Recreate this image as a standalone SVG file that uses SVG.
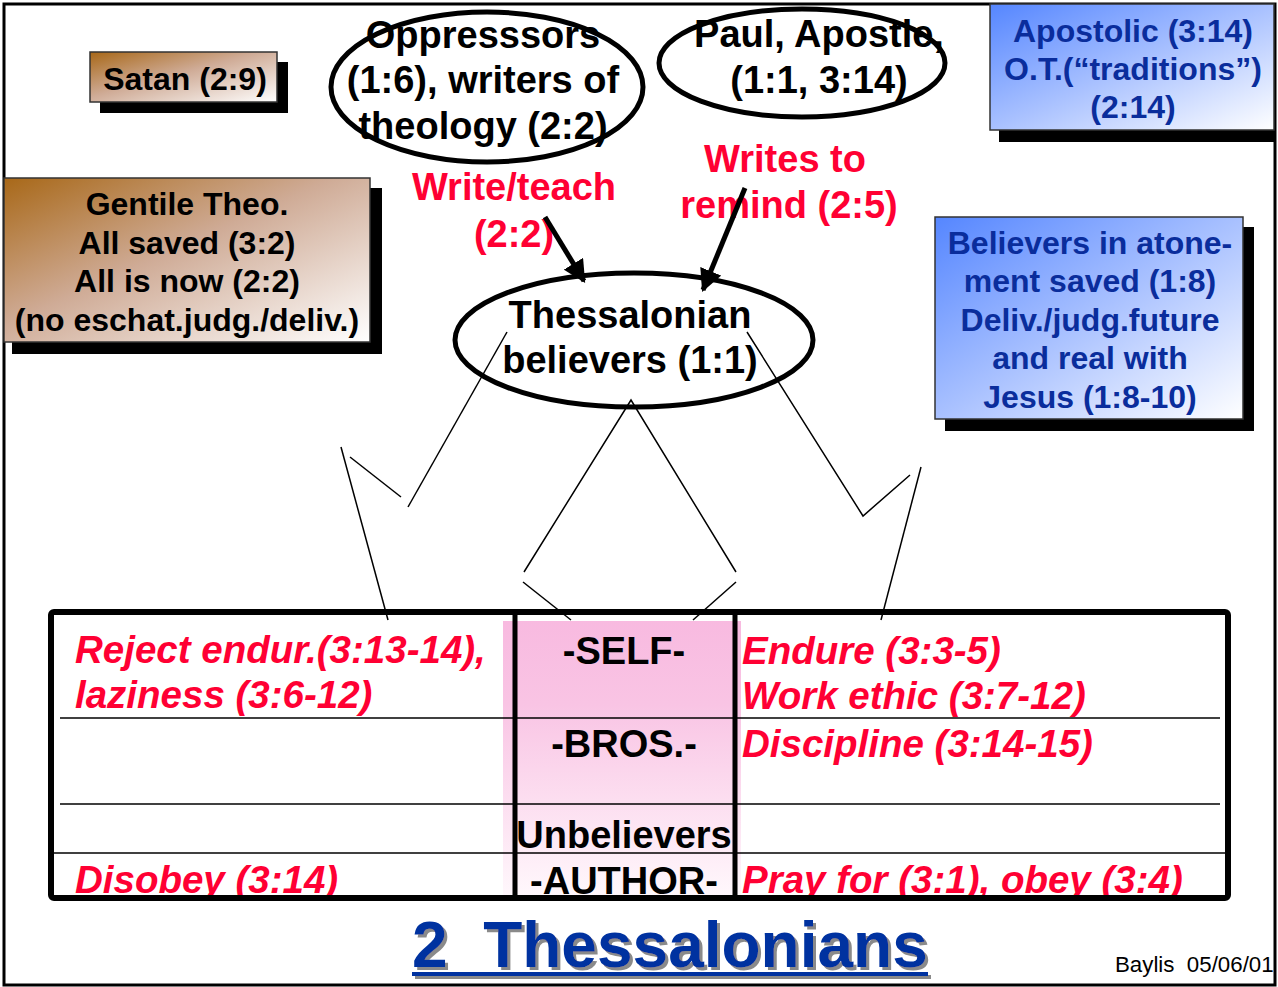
<svg xmlns="http://www.w3.org/2000/svg" width="1278" height="987" viewBox="0 0 1278 987">
<style>
text{font-family:"Liberation Sans",Arial,Helvetica,sans-serif;font-weight:bold;}
.b32{font-size:32px;fill:#000;text-anchor:middle;}
.bl32{font-size:32px;fill:#0a2d9c;text-anchor:middle;}
.e38{font-size:38px;fill:#000;text-anchor:middle;}
.r38{font-size:38px;fill:#ff0033;text-anchor:middle;}
.ri{font-size:38.5px;fill:#ff0033;font-style:italic;}
.cell{font-size:38px;fill:#000;text-anchor:middle;}
.ell{fill:none;stroke:#000;stroke-width:5;}
.thin{stroke:#000;stroke-width:1.5;fill:none;}
.shadow{fill:#000;}
.box{stroke:#333;stroke-width:1.5;}
</style>
<defs>
<linearGradient id="gBrown" x1="0" y1="0" x2="1" y2="1">
<stop offset="0" stop-color="#a86818"/>
<stop offset="0.45" stop-color="#cfab96"/>
<stop offset="1" stop-color="#ffffff"/>
</linearGradient>
<linearGradient id="gBlue" x1="0" y1="0" x2="1" y2="1">
<stop offset="0" stop-color="#5586ff"/>
<stop offset="0.5" stop-color="#a9c1ff"/>
<stop offset="1" stop-color="#ffffff"/>
</linearGradient>
<linearGradient id="gPink" x1="0" y1="0" x2="0" y2="1">
<stop offset="0" stop-color="#f8bae0"/>
<stop offset="0.3" stop-color="#f9c4e4"/>
<stop offset="1" stop-color="#fff8fc"/>
</linearGradient>
<filter id="ds" x="-5%" y="-20%" width="110%" height="140%">
<feDropShadow dx="3" dy="3" stdDeviation="0.6" flood-color="#8a8a8a" flood-opacity="1"/>
</filter>
<marker id="ah" viewBox="0 0 10 10" refX="9" refY="5" markerWidth="4.5" markerHeight="4.5" orient="auto" markerUnits="strokeWidth">
<path d="M0,0 L10,5 L0,10 z" fill="#000"/>
</marker>
</defs>
<rect x="0" y="0" width="1278" height="987" fill="#fff"/>
<rect x="4" y="4" width="1271" height="981" fill="none" stroke="#000" stroke-width="3"/>

<g id="satan">
<rect class="shadow" x="100" y="62" width="188" height="51"/>
<rect class="box" x="90" y="52" width="187" height="50" fill="url(#gBrown)"/>
<text class="b32" x="185" y="90">Satan (2:9)</text>
</g>

<g id="gentile">
<rect class="shadow" x="12" y="188" width="370" height="166"/>
<rect class="box" x="4" y="178" width="366" height="164" fill="url(#gBrown)"/>
<text class="b32" x="187" y="215">Gentile Theo.</text>
<text class="b32" x="187" y="254">All saved (3:2)</text>
<text class="b32" x="187" y="292">All is now (2:2)</text>
<text class="b32" x="187" y="331">(no eschat.judg./deliv.)</text>
</g>

<g id="apostolic">
<rect class="shadow" x="999" y="14" width="277" height="128"/>
<rect class="box" x="990" y="4" width="284" height="126" fill="url(#gBlue)"/>
<text class="bl32" x="1133" y="42">Apostolic (3:14)</text>
<text class="bl32" x="1133" y="80">O.T.(“traditions”)</text>
<text class="bl32" x="1133" y="118">(2:14)</text>
</g>

<g id="atonement">
<rect class="shadow" x="945" y="227" width="309" height="204"/>
<rect class="box" x="935" y="217" width="308" height="202" fill="url(#gBlue)"/>
<text class="bl32" x="1090" y="254">Believers in atone-</text>
<text class="bl32" x="1090" y="292">ment saved (1:8)</text>
<text class="bl32" x="1090" y="331">Deliv./judg.future</text>
<text class="bl32" x="1090" y="369">and real with</text>
<text class="bl32" x="1090" y="408">Jesus (1:8-10)</text>
</g>

<g id="oppressors">
<ellipse class="ell" cx="487" cy="87" rx="156" ry="75"/>
<text class="e38" x="483" y="48">Oppresssors</text>
<text class="e38" x="483" y="93">(1:6), writers of</text>
<text class="e38" x="483" y="139">theology (2:2)</text>
</g>

<g id="paul">
<ellipse class="ell" cx="802" cy="63" rx="143" ry="54"/>
<text class="e38" x="819" y="47">Paul, Apostle,</text>
<text class="e38" x="819" y="93">(1:1, 3:14)</text>
</g>

<g id="labels">
<text class="r38" x="514" y="200">Write/teach</text>
<text class="r38" x="514" y="247">(2:2)</text>
<text class="r38" x="785" y="172">Writes to</text>
<text class="r38" x="789" y="218">remind (2:5)</text>
</g>

<g id="thessalonian">
<ellipse class="ell" cx="634" cy="340" rx="179" ry="67"/>
<text class="e38" x="630" y="328">Thessalonian</text>
<text class="e38" x="630" y="373">believers (1:1)</text>
</g>

<g id="table">
<rect x="503" y="621" width="238" height="276" fill="url(#gPink)"/>
<line class="thin" x1="60" y1="718" x2="1220" y2="718"/>
<line class="thin" x1="60" y1="804" x2="1220" y2="804"/>
<line class="thin" x1="51" y1="853" x2="1228" y2="853"/>
<text class="ri" x="75" y="663">Reject endur.(3:13-14),</text>
<text class="ri" x="75" y="708">laziness (3:6-12)</text>
<text class="ri" x="75" y="893">Disobey (3:14)</text>
<text class="ri" x="742" y="664">Endure (3:3-5)</text>
<text class="ri" x="742" y="709">Work ethic (3:7-12)</text>
<text class="ri" x="742" y="757">Discipline (3:14-15)</text>
<text class="ri" x="742" y="893">Pray for (3:1), obey (3:4)</text>
<text class="cell" x="624" y="664">-SELF-</text>
<text class="cell" x="624" y="757">-BROS.-</text>
<text class="cell" x="624" y="848">Unbelievers</text>
<text class="cell" x="624" y="894">-AUTHOR-</text>
<line x1="515" y1="612" x2="515" y2="898" stroke="#000" stroke-width="5"/>
<line x1="735" y1="612" x2="735" y2="898" stroke="#000" stroke-width="5"/>
<rect x="51" y="612" width="1177" height="286" rx="3" fill="none" stroke="#000" stroke-width="6"/>
</g>

<g id="connectors">
<line x1="545" y1="217" x2="584" y2="281" stroke="#000" stroke-width="5" marker-end="url(#ah)"/>
<line x1="745" y1="188" x2="703" y2="290" stroke="#000" stroke-width="5" marker-end="url(#ah)"/>
<polyline class="thin" points="507,332 408,507"/>
<line class="thin" x1="341" y1="447" x2="388" y2="620"/>
<line class="thin" x1="350" y1="457" x2="401" y2="497"/>
<polyline class="thin" points="524,572 631,400 736,572"/>
<line class="thin" x1="523" y1="582" x2="571" y2="620"/>
<line class="thin" x1="736" y1="582" x2="693" y2="620"/>
<polyline class="thin" points="747,332 863,516 910,475"/>
<line class="thin" x1="921" y1="467" x2="881" y2="620"/>
</g>

<g id="title" filter="url(#ds)" fill="#0033a0">
<text x="412" y="967" font-size="64">2&#160;&#160;Thessalonians</text>
<rect x="412" y="972" width="516" height="4"/>
</g>

<text x="1115" y="972" font-size="22.3" style="font-weight:normal" fill="#000">Baylis&#160;&#160;05/06/01</text>
</svg>
